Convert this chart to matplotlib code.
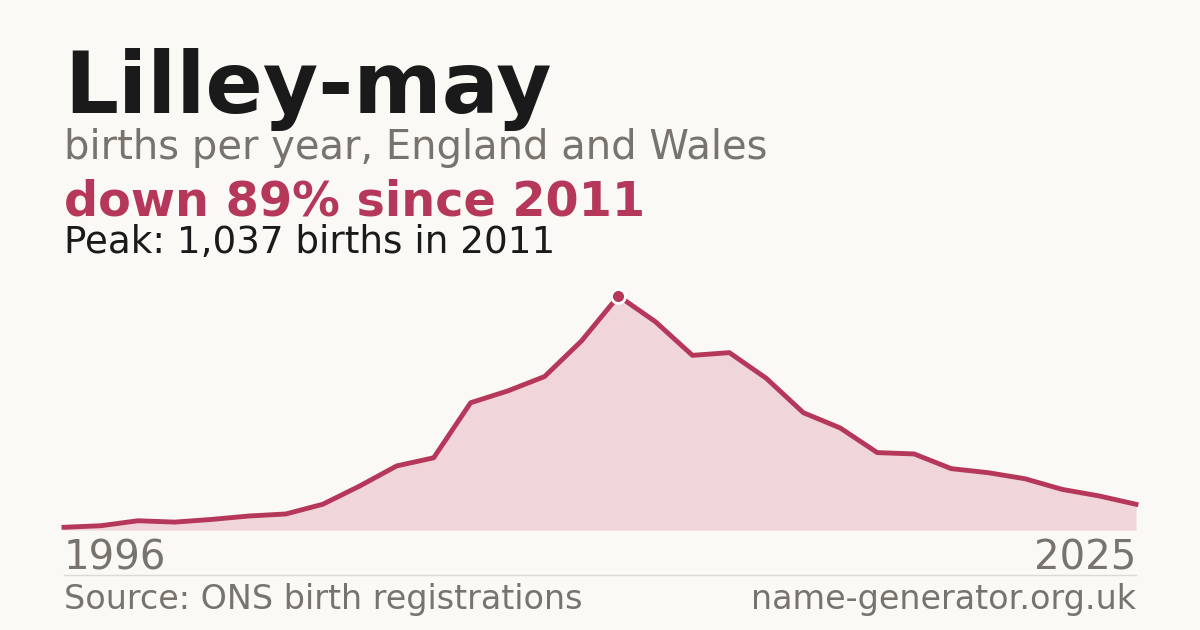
import matplotlib
matplotlib.use("Agg")
from matplotlib import pyplot as plt

plt.rcParams['font.family'] = ['DejaVu Sans']

# data
years = list(range(1996, 2026))
births = [12, 19, 41, 35, 47, 62, 71, 114, 195, 284, 320, 564, 616, 680, 838,
          1037, 923, 774, 786, 672, 520, 452, 343, 337, 272, 254, 227, 180, 151, 114]

name = "Lilley-may"
subtitle = "births per year, England and Wales"
headline = "down 89% since 2011"
peak_note = "Peak: 1,037 births in 2011"
source = "Source: ONS birth registrations"
site = "name-generator.org.uk"

bg = "#faf9f5"
red = "#b5385a"
fill = "#f0d5da"
grey = "#78736c"
dark = "#1a1a1a"

W, H = 1200, 630
fig = plt.figure(figsize=(12, 6.3), dpi=100, facecolor=bg)

def px(x, y):
    return x / W, 1 - y / H

# plot area: x 64..1136, baseline at y=530, peak at y=296
ax = fig.add_axes([64 / W, 1 - 530 / H, (1136 - 64) / W, (530 - 296) / H])
ax.patch.set_alpha(0)
ax.fill_between(years, births, 0, color=fill, lw=0, clip_on=False)
ax.plot(years, births, color=red, lw=3.5, clip_on=False)
pk = births.index(max(births))
ax.plot(years[pk], births[pk], "o", ms=10, color=red, mec="white", mew=2,
        clip_on=False, zorder=5)
ax.set_xlim(years[0], years[-1])
ax.set_ylim(0, max(births))
ax.axis("off")

fig.text(*px(64, 113), name, fontsize=61, fontweight="bold", color=dark, va="baseline")
fig.text(*px(64, 159), subtitle, fontsize=28.8, color=grey, va="baseline")
fig.text(*px(64, 215), headline, fontsize=34.4, fontweight="bold", color=red, va="baseline")
fig.text(*px(64, 253), peak_note, fontsize=26.8, color=dark, va="baseline")

fig.text(*px(64, 570), str(years[0]), fontsize=29, color=grey, va="baseline")
fig.text(*px(1136, 570), str(years[-1]), fontsize=29, color=grey, va="baseline", ha="right")
fig.add_artist(plt.Line2D([64 / W, 1136 / W], [1 - 574.5 / H] * 2, color="#dddad4", lw=1))
fig.text(*px(64, 609), source, fontsize=24, color=grey, va="baseline")
fig.text(*px(1136, 609), site, fontsize=24, color=grey, va="baseline", ha="right")

fig.savefig("out.png", dpi=100, facecolor=bg)
